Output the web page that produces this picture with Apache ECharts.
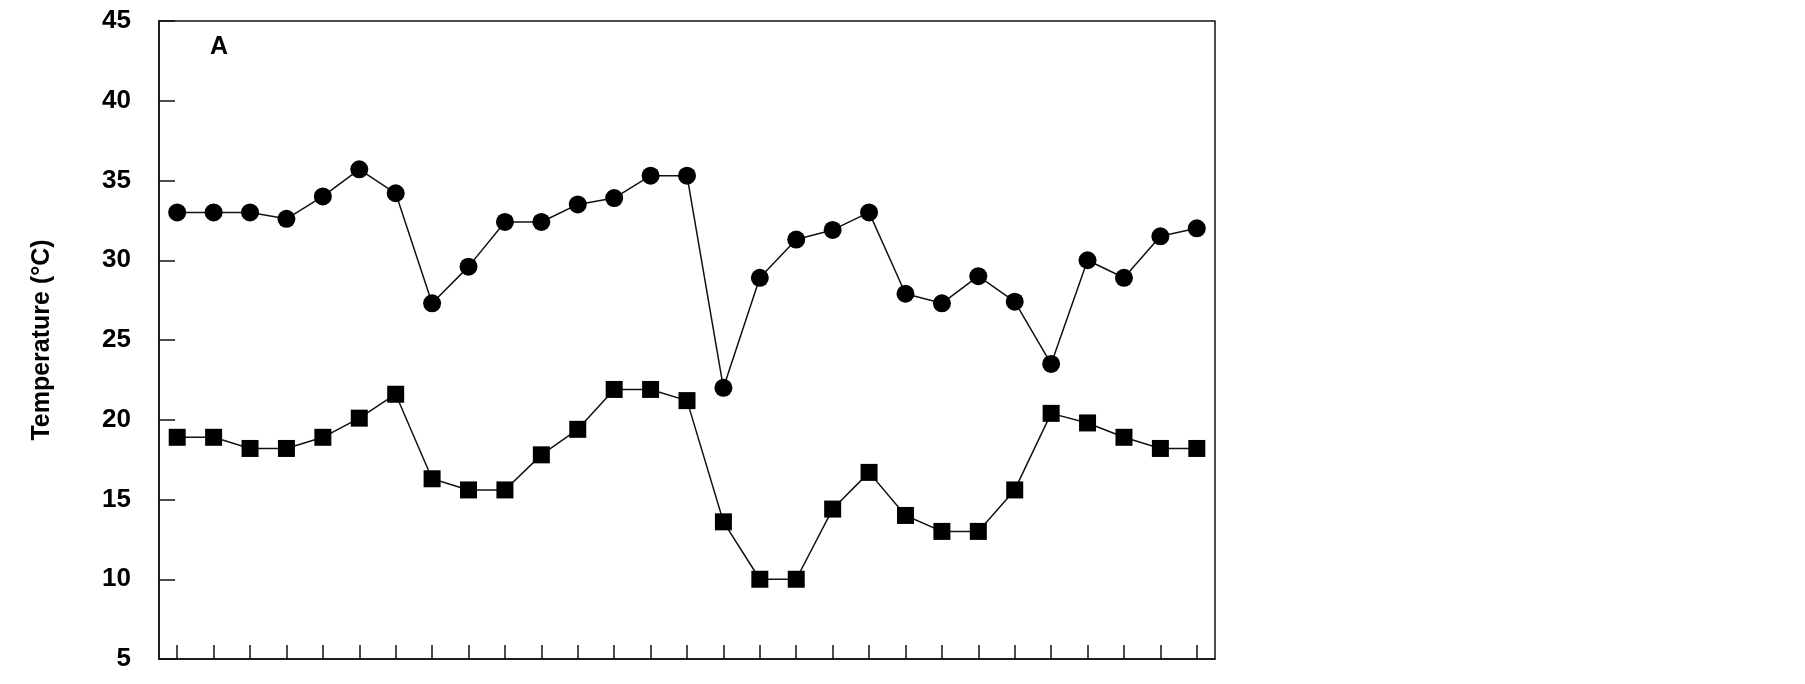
<!DOCTYPE html>
<html>
<head>
<meta charset="utf-8">
<script src="https://cdn.jsdelivr.net/npm/echarts@6/dist/echarts.min.js"></script>
<style>
  html, body { margin: 0; padding: 0; background: #fff; }
  #chart { width: 1805px; height: 684px; }
</style>
</head>
<body>
<div id="chart"></div>
<script>
// 29 sampling days, no tick labels on the x axis
const days = Array.from({ length: 29 }, (_, i) => String(i + 1))
// max temperature (circles)
const maxTemp = [33.0, 33.0, 33.0, 32.6, 34.0, 35.7, 34.2, 27.3, 29.6, 32.4,
  32.4, 33.5, 33.9, 35.3, 35.3, 22.0, 28.9, 31.3, 31.9, 33.0,
  27.9, 27.3, 29.0, 27.4, 23.5, 30.0, 28.9, 31.5, 32.0]
// min temperature (squares)
const minTemp = [18.9, 18.9, 18.2, 18.2, 18.9, 20.1, 21.6, 16.3, 15.6, 15.6,
  17.8, 19.4, 21.9, 21.9, 21.2, 13.6, 10.0, 10.0, 14.4, 16.7,
  14.0, 13.0, 13.0, 15.6, 20.4, 19.8, 18.9, 18.2, 18.2]

const font = 'Liberation Sans, Arial, sans-serif'
const chart = echarts.init(document.getElementById('chart'))

const option = {
  animation: false,
  grid: {
    left: 159,
    right: 590,
    top: 21,
    bottom: 25,
    show: true,
    borderColor: '#111',
    borderWidth: 1.5,
    containLabel: false
  },
  graphic: [
    {
      type: 'text',
      left: 210,
      top: 35,
      style: { text: 'A', font: 'bold 25px ' + font, fill: '#000' }
    }
  ],
  xAxis: {
    type: 'category',
    data: days,
    boundaryGap: true,
    axisLine: { lineStyle: { color: '#111', width: 1.5 } },
    axisTick: { show: true, inside: true, alignWithLabel: true, length: 14, lineStyle: { color: '#111', width: 1.5 } },
    axisLabel: { show: false },
    splitLine: { show: false }
  },
  yAxis: {
    type: 'value',
    min: 5,
    max: 45,
    interval: 5,
    name: 'Temperature (°C)',
    nameLocation: 'middle',
    nameGap: 104,
    nameTextStyle: { fontFamily: font, fontWeight: 'bold', fontSize: 25, color: '#000' },
    axisLine: { show: true, lineStyle: { color: '#111', width: 1.5 } },
    axisTick: { show: true, inside: true, length: 16, lineStyle: { color: '#111', width: 1.5 } },
    axisLabel: { margin: 28, fontFamily: font, fontWeight: 'bold', fontSize: 26, color: '#000' },
    splitLine: { show: false }
  },
  series: [
    {
      name: 'Max',
      type: 'line',
      data: maxTemp,
      symbol: 'circle',
      symbolSize: 18,
      itemStyle: { color: '#000' },
      lineStyle: { color: '#111', width: 1.5 }
    },
    {
      name: 'Min',
      type: 'line',
      data: minTemp,
      symbol: 'rect',
      symbolSize: 17,
      itemStyle: { color: '#000' },
      lineStyle: { color: '#111', width: 1.5 }
    }
  ]
}

chart.setOption(option)
</script>
</body>
</html>
